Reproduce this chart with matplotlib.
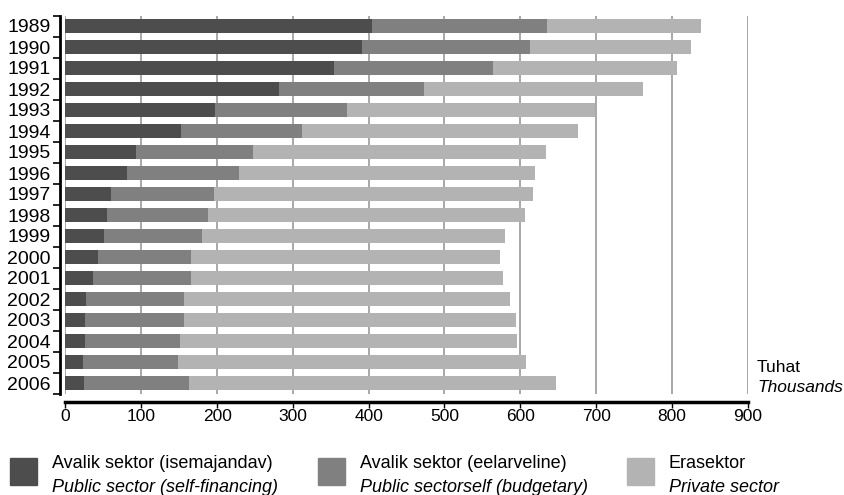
import matplotlib.pyplot as plt
import numpy as np

plt.rcParams['font.family'] = ['Liberation Sans', 'DejaVu Sans']

# Aastad ja sektorite väärtused (tuhat)
years = ["1989", "1990", "1991", "1992", "1993", "1994", "1995", "1996", "1997",
         "1998", "1999", "2000", "2001", "2002", "2003", "2004", "2005", "2006"]
self_fin = [404, 391, 354, 282, 197, 152, 93, 81, 60, 55, 51, 43, 36, 27, 26, 26, 23, 24]
budgetary = [231, 222, 210, 191, 174, 160, 154, 148, 136, 133, 129, 123, 130, 129, 130, 125, 125, 139]
private = [203, 212, 243, 289, 328, 364, 387, 390, 421, 418, 400, 407, 411, 430, 438, 445, 459, 484]

series_names = [("Avalik sektor (isemajandav)", "Public sector (self-financing)"),
                ("Avalik sektor (eelarveline)", "Public sectorself (budgetary)"),
                ("Erasektor", "Private sector")]
colors = ["#4d4d4d", "#808080", "#b3b3b3"]

W, H = 845, 495
fig = plt.figure(figsize=(W / 100, H / 100), dpi=100)
ax = fig.add_axes([65.5 / W, 1 - 393.5 / H, (747.7 - 65.5) / W, (393.5 - 15.5) / H])

y = np.arange(len(years))
left = np.zeros(len(years))
for vals, c in zip([self_fin, budgetary, private], colors):
    ax.barh(y, vals, left=left, height=0.65, color=c, zorder=3)
    left += np.array(vals)

ax.set_xlim(0, 900)
ax.set_ylim(len(years) - 0.5, -0.5)
ax.set_xticks(range(0, 1000, 100))
ax.set_yticks(y)
ax.set_yticklabels(years)
ax.set_yticks(np.arange(-0.5, len(years), 1), minor=True)
ax.tick_params(axis='y', which='major', length=0, labelsize=14, pad=6.5)
ax.tick_params(axis='y', which='minor', length=5, width=1.2, direction='out')
ax.tick_params(axis='x', length=4, width=1, labelsize=12.5, pad=1.5)

ax.xaxis.grid(True, color='#999999', lw=1.2, zorder=0)
for s in ['top', 'right']:
    ax.spines[s].set_visible(False)
ax.spines['left'].set_position(('outward', 4))
ax.spines['left'].set_linewidth(2)
ax.spines['bottom'].set_position(('outward', 6))
ax.spines['bottom'].set_linewidth(2.5)

fig.text(757 / W, 1 - 368 / H, "Tuhat", fontsize=12.5, va='center')
fig.text(757 / W, 1 - 388 / H, "Thousands", fontsize=12.5, va='center', style='italic')

# Legend
box_x = [10, 318, 627]
for bx, c, (et, en) in zip(box_x, colors, series_names):
    fig.patches.append(plt.Rectangle((bx / W, 1 - 485 / H), 27 / W, 27 / H,
                                     transform=fig.transFigure, color=c))
    fig.text((bx + 42) / W, 1 - 463 / H, et, fontsize=13, va='center')
    fig.text((bx + 42) / W, 1 - 487 / H, en, fontsize=13, va='center', style='italic')

fig.savefig("out.png", dpi=100)
